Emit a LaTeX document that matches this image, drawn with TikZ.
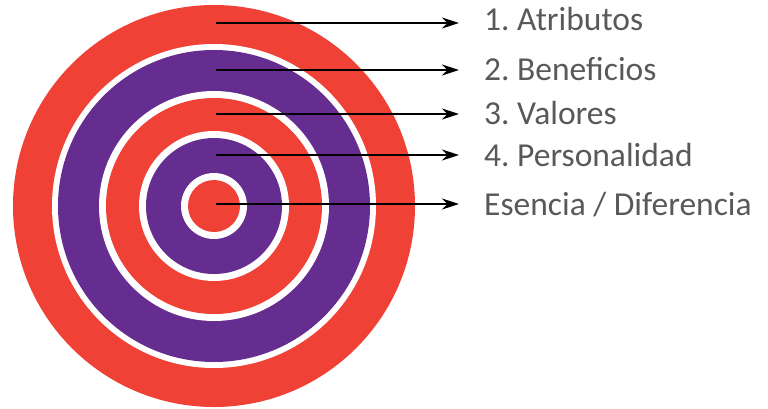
\documentclass[tikz,border=0pt]{standalone}
\usepackage{fontspec}
\setmainfont{Carlito}
\usepackage{tikz}
\usetikzlibrary{arrows.meta}
\definecolor{anillorojo}{HTML}{EF4136}
\definecolor{anillomorado}{HTML}{662D91}
\definecolor{textogris}{HTML}{595959}
\frenchspacing
\tikzset{
  etiqueta/.style={anchor=base west, inner sep=0pt, text=textogris,
    font=\fontsize{33.5}{40}\selectfont},
  flecha/.style={-{Stealth[length=17pt,width=11pt]}, line width=2pt, black}
}

\begin{document}
\begin{tikzpicture}[x=1pt,y=-1pt]
   \useasboundingbox (0,0) rectangle (768,408);
   % anillos
   \fill [anillorojo] (214,206) circle (201);
   \fill [white] (214,206) circle (162);
   \fill [anillomorado] (214,206) circle (156);
   \fill [white] (214,206) circle (115);
   \fill [anillorojo] (214,206) circle (108);
   \fill [white] (214,206) circle (75);
   \fill [anillomorado] (214,206) circle (68);
   \fill [white] (214,206) circle (33);
   \fill [anillorojo] (214,206) circle (26);
   % etiquetas
   \node [etiqueta] (atributos) at (484,30) {1. Atributos};
   \node [etiqueta] (beneficios) at (484,80) {2. Beneficios};
   \node [etiqueta] (valores) at (484,124) {3. Valores};
   \node [etiqueta] (personalidad) at (484,166) {4. Personalidad};
   \node [etiqueta] (esencia) at (484,215) {Esencia / Diferencia};
   % flechas
   \coordinate (a1) at (216,23);
   \coordinate (a2) at (216,70);
   \coordinate (a3) at (216,114);
   \coordinate (a4) at (216,155);
   \coordinate (a5) at (216,204);
   \draw [flecha] (a1) -- ([xshift=-25pt]atributos.west |- a1);
   \draw [flecha] (a2) -- ([xshift=-25pt]beneficios.west |- a2);
   \draw [flecha] (a3) -- ([xshift=-25pt]valores.west |- a3);
   \draw [flecha] (a4) -- ([xshift=-25pt]personalidad.west |- a4);
   \draw [flecha] (a5) -- ([xshift=-25pt]esencia.west |- a5);
\end{tikzpicture}
\end{document}
